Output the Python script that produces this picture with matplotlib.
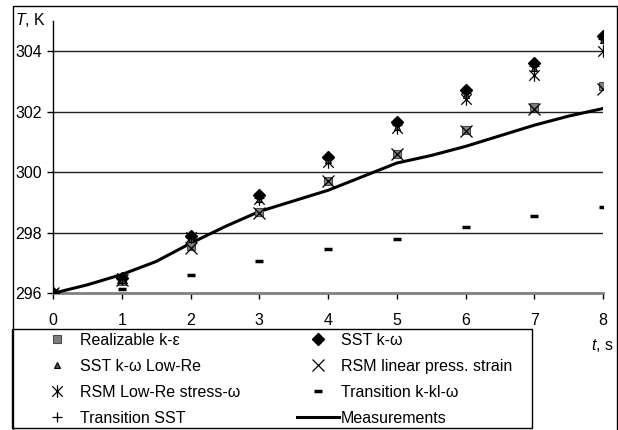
import matplotlib
matplotlib.use("Agg")
import matplotlib.pyplot as plt
from matplotlib.path import Path
from matplotlib.lines import Line2D
from matplotlib.patches import Rectangle

#%% --- Data ---

t_model = [0, 1, 2, 3, 4, 5, 6, 7, 8]

realizable_ke = [296.0, 296.4, 297.55, 298.7, 299.7, 300.6, 301.4, 302.15, 302.85]
sst_kw = [296.0, 296.5, 297.9, 299.25, 300.5, 301.65, 302.7, 303.6, 304.5]
sst_kw_lowre = [296.0, 296.45, 297.8, 299.1, 300.4, 301.5, 302.55, 303.45, 304.35]
rsm_linear = [296.0, 296.45, 297.5, 298.65, 299.7, 300.6, 301.35, 302.1, 302.75]
rsm_lowre = [296.0, 296.5, 297.85, 299.1, 300.35, 301.45, 302.4, 303.2, 304.0]
transition_kklw = [296.0, 296.15, 296.6, 297.05, 297.45, 297.8, 298.2, 298.55, 298.85]
transition_sst = [296.0, 296.5, 297.85, 299.15, 300.45, 301.55, 302.6, 303.5, 304.4]

t_meas = [0, 0.5, 1, 1.5, 2, 2.5, 3, 3.5, 4, 4.5, 5, 5.5, 6, 6.5, 7, 7.5, 8]
measurements = [296.0, 296.28, 296.62, 297.05, 297.65, 298.2, 298.7, 299.05, 299.4,
                 299.85, 300.3, 300.55, 300.85, 301.2, 301.55, 301.85, 302.1]

#%% --- Style ---

plt.rcParams["font.family"] = ["Liberation Sans", "DejaVu Sans"]
plt.rcParams["mathtext.fontset"] = "custom"
plt.rcParams["mathtext.rm"] = "Liberation Sans"
plt.rcParams["mathtext.it"] = "Liberation Sans:italic"

# Excel-like asterisk: an x with a vertical bar
star = Path([(-1, -1), (1, 1), (-1, 1), (1, -1), (0, -1.2), (0, 1.2)],
            [Path.MOVETO, Path.LINETO, Path.MOVETO, Path.LINETO,
             Path.MOVETO, Path.LINETO])

W, H = 618, 430
fig = plt.figure(figsize=(W / 100, H / 100), dpi=100)
ax = fig.add_axes([53 / W, (H - 293.3) / H, 550 / W, 272.6 / H])

#%% --- Plot ---

s_real, = ax.plot(t_model, realizable_ke, ls="none", marker="s", ms=5.5,
                  mfc="#7f7f7f", mec="#4a4a4a", mew=0.8, zorder=4)
s_sst, = ax.plot(t_model, sst_kw, ls="none", marker="D", ms=6.5,
                 mfc="black", mec="black", zorder=5)
s_sstlow, = ax.plot(t_model, sst_kw_lowre, ls="none", marker="^", ms=5,
                    mfc="#555555", mec="black", mew=0.8, zorder=6)
s_rsmlin, = ax.plot(t_model, rsm_linear, ls="none", marker="x", ms=9,
                    mec="black", mew=0.9, zorder=5)
s_rsmlow, = ax.plot(t_model, rsm_lowre, ls="none", marker=star, ms=9,
                    mec="black", mfc="none", mew=0.9, zorder=5)
s_kklw, = ax.plot(t_model, transition_kklw, ls="none", marker="_", ms=6,
                  mec="black", mew=2.5, zorder=5)
s_tsst, = ax.plot(t_model, transition_sst, ls="none", marker="+", ms=7,
                  mec="black", mew=0.9, zorder=6)
l_meas, = ax.plot(t_meas, measurements, color="black", lw=2.2, zorder=3)

#%% --- Axes ---

ax.set_xlim(0, 8)
ax.set_ylim(296, 305)
ax.set_yticks([296, 298, 300, 302, 304])
ax.set_xticks(range(0, 9))

for yv in [298, 300, 302, 304]:
    ax.axhline(yv, color="#222222", lw=1, zorder=1)

ax.spines["top"].set_visible(False)
ax.spines["right"].set_visible(False)
ax.spines["left"].set_color("black")
ax.spines["left"].set_linewidth(1)
ax.spines["bottom"].set_color("#808080")
ax.spines["bottom"].set_linewidth(2)

ax.tick_params(axis="y", direction="out", length=4, width=1, pad=4,
               labelsize=11.5, colors="black")
ax.tick_params(axis="x", direction="out", length=4, width=1, pad=10,
               labelsize=11.5, colors="black")

fig.text(15 / W, 1 - 20 / H, "$T$, K", fontsize=11.5, ha="left", va="center")
fig.text(602 / W, 1 - 345 / H, "$t$, s", fontsize=11.5, ha="center", va="center")

#%% --- Legend ---

col1 = [s_real, s_sstlow, s_rsmlow, s_tsst]
col1_labels = ["Realizable k-ε", "SST k-ω Low-Re", "RSM Low-Re stress-ω",
               "Transition SST"]
col2 = [s_sst, s_rsmlin, s_kklw, l_meas]
col2_labels = ["SST k-ω", "RSM linear press. strain", "Transition k-kl-ω",
               "Measurements"]

leg_kw = dict(loc="upper left", frameon=False, fontsize=11.5, borderpad=0,
              borderaxespad=0, labelspacing=0.68, handlelength=2.63,
              handletextpad=0.12)
leg1 = fig.legend(col1, col1_labels, bbox_to_anchor=(36 / W, 1 - 333 / H), **leg_kw)
leg2 = fig.legend(col2, col2_labels, bbox_to_anchor=(297 / W, 1 - 333 / H), **leg_kw)

fig.patches.append(Rectangle((12 / W, 1 - 428 / H), 520 / W, 99 / H,
                             transform=fig.transFigure, fill=False,
                             ec="black", lw=1))

# Chart frame (left, top, right)
fig.lines.append(Line2D([12.5 / W, 12.5 / W, 616.5 / W, 616.5 / W],
                        [0, 1 - 6 / H, 1 - 6 / H, 0],
                        transform=fig.transFigure, color="black", lw=1))

fig.savefig("out.png", dpi=100)
